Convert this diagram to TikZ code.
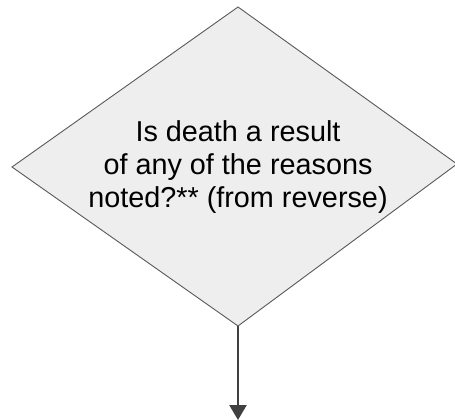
\documentclass[tikz,border=0pt]{standalone}
\usepackage{fontspec}
\setmainfont{Liberation Sans}
\usetikzlibrary{arrows.meta}
\definecolor{dfill}{HTML}{EEEEEE}
\definecolor{dline}{HTML}{595959}
\definecolor{aline}{HTML}{404040}
\tikzset{
  decision/.style={draw=dline, fill=dfill, line width=0.9pt, line join=miter},
  label/.style={align=center, inner sep=0pt, font=\fontsize{28.8}{33}\selectfont, text=black},
  flow/.style={draw=aline, line width=2.4pt, -{Triangle[width=17pt,length=15pt]}}
}
\begin{document}
\begin{tikzpicture}[x=1pt,y=-1pt]
\useasboundingbox (0,0) rectangle (455,420);
\fill[white] (0,0) rectangle (455,420);
\coordinate (top) at (238,7);
\coordinate (right) at (457,164);
\coordinate (bottom) at (238,326);
\coordinate (left) at (12,167);
\coordinate (end) at (238,420);
\path[decision] (top) -- (right) -- (bottom) -- (left) -- cycle;
\node[label] (q) at (238,167) {Is death a result\\of any of the reasons\\noted?** (from reverse)};
\draw[flow] (bottom) -- (end);
\end{tikzpicture}
\end{document}
